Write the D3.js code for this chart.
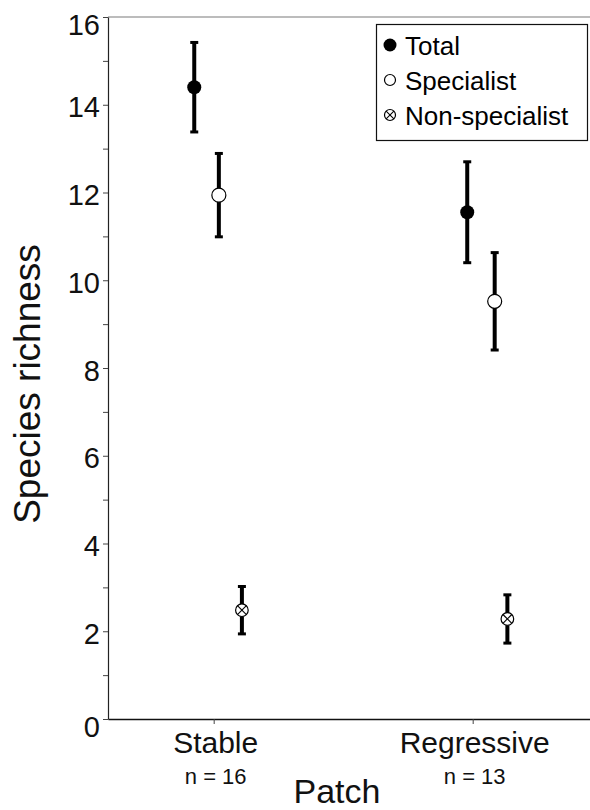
<!DOCTYPE html>
<html>
<head>
<meta charset="utf-8">
<script src="https://cdn.jsdelivr.net/npm/d3@7"></script>
<style>
  html, body { margin: 0; padding: 0; background: #fff; }
  svg { display: block; font-family: "Liberation Sans", Arial, sans-serif; }
</style>
</head>
<body>
<svg id="chart" width="590" height="810"></svg>
<script>
// Patch types and their sample sizes
const categories = ["Stable", "Regressive"];
const sampleSizes = [16, 13];

// Mean species richness and standard error per patch type
const totalMean = [14.40, 11.55];
const totalSE = [1.02, 1.15];
const specialistMean = [11.94, 9.52];
const specialistSE = [0.95, 1.11];
const nonSpecialistMean = [2.48, 2.28];
const nonSpecialistSE = [0.54, 0.55];

// Y-axis ticks (labels on even values only)
const yTicks = d3.range(0, 17);
const yTickLabels = ["0", "", "2", "", "4", "", "6", "", "8", "", "10", "", "12", "", "14", "", "16"];

const seriesNames = ["Total", "Specialist", "Non-specialist"];

// Horizontal dodge (in category units) so the error bars do not overlap
const dodge = {
  "Total": [-0.075, -0.021],
  "Specialist": [0.020, 0.085],
  "Non-specialist": [0.109, 0.134]
};

const series = [
  { name: "Total", mean: totalMean, se: totalSE },
  { name: "Specialist", mean: specialistMean, se: specialistSE },
  { name: "Non-specialist", mean: nonSpecialistMean, se: nonSpecialistSE }
];

const svg = d3.select("#chart");
const plotLeft = 108, plotRight = 590, plotTop = 17, plotBottom = 719;

const y = d3.scaleLinear().domain([0, 16]).range([plotBottom, plotTop]);
const x = d3.scaleLinear().domain([0.592, 2.453]).range([plotLeft, plotRight]);

// Frame line along the top
svg.append("line")
  .attr("x1", plotLeft).attr("x2", plotRight)
  .attr("y1", plotTop).attr("y2", plotTop)
  .attr("stroke", "#7a7a7a").attr("stroke-width", 1.2);

// Y axis
const yAxis = svg.append("g")
  .attr("transform", `translate(${plotLeft},0)`)
  .call(d3.axisLeft(y)
    .tickValues(yTicks)
    .tickFormat((d, i) => yTickLabels[i])
    .tickSize(5)
    .tickSizeOuter(0)
    .tickPadding(3));
yAxis.select(".domain").attr("stroke", "#222").attr("stroke-width", 1.2);
yAxis.selectAll(".tick line").attr("stroke", "#444").attr("stroke-width", 1);
yAxis.selectAll(".tick text")
  .attr("font-size", 29)
  .attr("fill", "#111")
  .attr("font-family", "Liberation Sans, Arial, sans-serif")
  .attr("dy", (d) => d === 0 || d === 16 ? "0.62em" : "0.42em");

// X axis
const xAxis = svg.append("g")
  .attr("transform", `translate(0,${plotBottom})`)
  .call(d3.axisBottom(x)
    .tickValues([1, 2])
    .tickFormat("")
    .tickSize(5)
    .tickSizeOuter(0));
xAxis.select(".domain").attr("stroke", "#111").attr("stroke-width", 1.4);
xAxis.selectAll(".tick line").attr("stroke", "#444").attr("stroke-width", 1);

// Category labels with sample sizes
categories.forEach((c, i) => {
  svg.append("text")
    .attr("x", x(i + 1) + 2).attr("y", 753)
    .attr("text-anchor", "middle")
    .attr("font-size", 30).attr("fill", "#111")
    .text(c);
  svg.append("text")
    .attr("x", x(i + 1) + 2).attr("y", 784)
    .attr("text-anchor", "middle")
    .attr("font-size", 22).attr("fill", "#111")
    .text(`n = ${sampleSizes[i]}`);
});

// Axis titles
svg.append("text")
  .attr("x", 337).attr("y", 803)
  .attr("text-anchor", "middle")
  .attr("font-size", 34).attr("fill", "#111")
  .text("Patch");

svg.append("text")
  .attr("transform", "translate(40,384) rotate(-90)")
  .attr("text-anchor", "middle")
  .attr("font-size", 37).attr("fill", "#111")
  .text("Species richness");

// Marker drawing
function drawMarker(g, name, cx, cy, r) {
  if (name === "Total") {
    g.append("circle").attr("cx", cx).attr("cy", cy).attr("r", r)
      .attr("fill", "#000");
  } else if (name === "Specialist") {
    g.append("circle").attr("cx", cx).attr("cy", cy).attr("r", r)
      .attr("fill", "#fff").attr("stroke", "#000").attr("stroke-width", 1.2);
  } else {
    g.append("circle").attr("cx", cx).attr("cy", cy).attr("r", r)
      .attr("fill", "#fff").attr("stroke", "#000").attr("stroke-width", 1.2);
    const k = r * Math.SQRT1_2;
    g.append("line").attr("x1", cx - k).attr("y1", cy - k).attr("x2", cx + k).attr("y2", cy + k)
      .attr("stroke", "#000").attr("stroke-width", 1.1);
    g.append("line").attr("x1", cx - k).attr("y1", cy + k).attr("x2", cx + k).attr("y2", cy - k)
      .attr("stroke", "#000").attr("stroke-width", 1.1);
  }
}

// Error bars and means
const plot = svg.append("g");
series.forEach((s) => {
  categories.forEach((c, i) => {
    const cx = x(i + 1 + dodge[s.name][i]);
    const hi = y(s.mean[i] + s.se[i]);
    const lo = y(s.mean[i] - s.se[i]);
    const g = plot.append("g");
    g.append("line").attr("x1", cx).attr("x2", cx).attr("y1", hi).attr("y2", lo)
      .attr("stroke", "#000").attr("stroke-width", 4);
    [hi, lo].forEach((yy) => {
      g.append("line").attr("x1", cx - 4).attr("x2", cx + 4).attr("y1", yy).attr("y2", yy)
        .attr("stroke", "#000").attr("stroke-width", 3);
    });
    drawMarker(g, s.name, cx, y(s.mean[i]), s.name === "Non-specialist" ? 6.3 : 7);
  });
});

// Legend
const legend = svg.append("g");
legend.append("rect")
  .attr("x", 376.5).attr("y", 24.5).attr("width", 211).attr("height", 116)
  .attr("fill", "#fff").attr("stroke", "#111").attr("stroke-width", 1.2);
seriesNames.forEach((name, i) => {
  const cy = 45 + i * 35;
  drawMarker(legend, name, 390, cy, name === "Total" ? 6.5 : 5.5);
  legend.append("text")
    .attr("x", 405).attr("y", cy + 9.5)
    .attr("font-size", 26).attr("fill", "#000")
    .text(name);
});
</script>
</body>
</html>
